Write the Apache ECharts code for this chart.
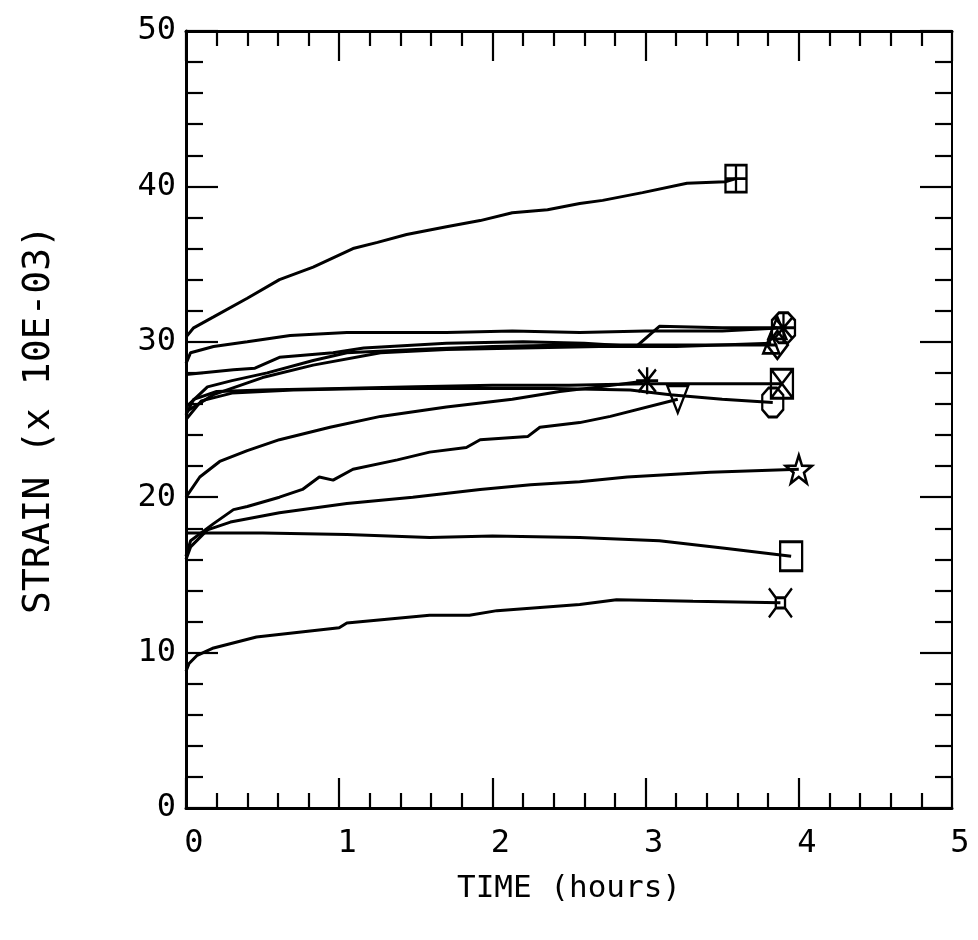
<!DOCTYPE html>
<html>
<head>
<meta charset="utf-8">
<script src="https://cdn.jsdelivr.net/npm/echarts@6/dist/echarts.min.js"></script>
<style>
html,body{margin:0;padding:0;background:#fff;}
#chart{width:978px;height:940px;}
</style>
</head>
<body>
<div id="chart"></div>
<script>
// ---- Data (time in hours, strain x 10E-03) ----
var xTicks = [0, 1, 2, 3, 4, 5];
var yTicks = [0, 10, 20, 30, 40, 50];

var curveA = [[0,30.3],[0.05,30.9],[0.18,31.6],[0.4,32.8],[0.61,34.0],[0.83,34.8],[1.09,36.0],[1.25,36.4],[1.44,36.9],[1.7,37.4],[1.92,37.8],[2.13,38.3],[2.36,38.5],[2.57,38.9],[2.72,39.1],[2.98,39.6],[3.27,40.2],[3.52,40.3],[3.59,40.5]];
var curveB = [[0,28.6],[0.03,29.3],[0.18,29.7],[0.4,30.0],[0.68,30.4],[1.05,30.6],[1.38,30.6],[1.7,30.6],[2.13,30.7],[2.57,30.6],[3.0,30.7],[3.5,30.7],[3.9,30.9]];
var curveC = [[0,27.9],[0.31,28.2],[0.45,28.3],[0.61,29.0],[0.96,29.3],[1.16,29.6],[1.7,29.9],[2.2,30.0],[2.6,29.9],[2.94,29.7],[3.09,31.0],[3.5,30.9],[3.86,30.9]];
var curveD = [[0,25.8],[0.14,27.1],[0.3,27.5],[0.53,28.0],[0.83,28.8],[1.05,29.3],[1.5,29.5],[2.0,29.7],[2.5,29.8],[3.0,29.8],[3.5,29.8],[3.86,29.8]];
var curveE = [[0,25.5],[0.18,26.6],[0.5,27.7],[0.83,28.5],[1.27,29.3],[1.7,29.5],[2.2,29.6],[2.7,29.7],[3.2,29.7],[3.82,29.9]];
var curveF = [[0,25.3],[0.05,26.3],[0.2,26.8],[0.5,26.9],[1.0,27.0],[1.5,27.1],[2.0,27.2],[2.5,27.2],[3.0,27.3],[3.5,27.3],[3.89,27.3]];
var curveH = [[0,25.0],[0.1,26.2],[0.3,26.7],[0.7,26.9],[1.2,27.0],[1.8,27.0],[2.4,27.0],[2.9,26.9],[3.16,26.6],[3.5,26.3],[3.83,26.1]];
var curveI = [[0,20.0],[0.09,21.3],[0.22,22.3],[0.4,23.0],[0.61,23.7],[0.94,24.5],[1.27,25.2],[1.7,25.8],[2.13,26.3],[2.44,26.8],[2.7,27.1],[3.01,27.5]];
var curveJ = [[0,16.2],[0.03,17.2],[0.18,18.3],[0.31,19.2],[0.4,19.4],[0.61,20.0],[0.76,20.5],[0.87,21.3],[0.96,21.1],[1.09,21.8],[1.38,22.4],[1.59,22.9],[1.83,23.2],[1.92,23.7],[2.23,23.9],[2.31,24.5],[2.57,24.8],[2.77,25.2],[3.21,26.3]];
var curveK = [[0,16.0],[0.03,16.8],[0.14,17.9],[0.29,18.4],[0.61,19.0],[1.05,19.6],[1.48,20.0],[1.92,20.5],[2.25,20.8],[2.57,21.0],[2.88,21.3],[3.42,21.6],[4.0,21.8]];
var curveL = [[0,17.7],[0.5,17.7],[1.05,17.6],[1.59,17.4],[2.0,17.5],[2.57,17.4],[3.09,17.2],[3.53,16.7],[3.95,16.2]];
var curveM = [[0,8.8],[0.02,9.3],[0.07,9.8],[0.18,10.3],[0.46,11.0],[1.0,11.6],[1.05,11.9],[1.59,12.4],[1.85,12.4],[2.03,12.7],[2.57,13.1],[2.81,13.4],[3.31,13.3],[3.88,13.2]];

// ---- Marker shapes ----
var SYM = {
  boxPlus: 'path://M0,0H20V28H0Z M10,0V28 M0,14H20',
  boxX: 'path://M0,0H20V28H0Z M0,0L20,28 M20,0L0,28',
  box: 'path://M0,0H20V28H0Z',
  octagon: 'path://M6,0H14L20,7V21L14,28H6L0,21V7Z',
  wheel: 'path://M6,0H14L20,7V21L14,28H6L0,21V7Z M10,0V28 M0,14H20 M2,4L18,24 M18,4L2,24',
  diamond: 'path://M10,0L20,14L10,28L0,14Z',
  triDown: 'path://M0,0H20L10,28Z',
  triUp: 'path://M10,0L20,28H0Z',
  star: 'path://M10,0L12.35,6.76L19.51,6.91L13.8,11.24L15.88,18.09L10,14L4.12,18.09L6.2,11.24L0.49,6.91L7.65,6.76Z',
  asterisk: 'path://M10,0V24 M0,12H20 M2,2L18,22 M18,2L2,22',
  crossBox: 'path://M6,9H14V19H6Z M0,0L6,9 M20,0L14,9 M0,28L6,19 M20,28L14,19'
};

var curves = [
  {d: curveA, s: SYM.boxPlus, size: [21, 27]},
  {d: curveB, s: SYM.wheel, size: [23, 30]},
  {d: curveC, s: SYM.triUp, size: [18, 22]},
  {d: curveD, s: SYM.diamond, size: [21, 28]},
  {d: curveE, s: SYM.triUp, size: [16, 20]},
  {d: curveF, s: SYM.boxX, size: [22, 29]},
  {d: curveH, s: SYM.octagon, size: [21, 29]},
  {d: curveI, s: SYM.asterisk, size: [22, 27]},
  {d: curveJ, s: SYM.triDown, size: [21, 27]},
  {d: curveK, s: SYM.star, size: [26, 28]},
  {d: curveL, s: SYM.box, size: [22, 29]},
  {d: curveM, s: SYM.crossBox, size: [23, 29]}
];

var FONT = 'DejaVu Sans Mono';
var series = [];
curves.forEach(function (c) {
  series.push({
    type: 'line', data: c.d, showSymbol: false, symbol: 'none',
    lineStyle: {color: '#000', width: 3}, z: 3, animation: false
  });
  series.push({
    type: 'scatter', data: [c.d[c.d.length - 1]], symbol: c.s, symbolSize: c.size,
    itemStyle: {color: 'rgba(0,0,0,0)', borderColor: '#000', borderWidth: 2.6, opacity: 1},
    z: 5, animation: false
  });
});

function xAx(pos, show) {
  return {
    type: 'value', position: pos, min: 0, max: 5, interval: 1,
    name: show ? 'TIME (hours)' : '', nameLocation: 'middle', nameGap: 65,
    nameTextStyle: {fontFamily: FONT, fontSize: 31, color: '#000'},
    axisLine: {show: true, onZero: false, lineStyle: {color: '#000', width: 3}},
    axisTick: {show: true, inside: true, length: 30, lineStyle: {color: '#000', width: 2.2}},
    minorTick: {show: true, splitNumber: 5, length: 15, lineStyle: {color: '#000', width: 2.2}},
    splitLine: {show: false}, minorSplitLine: {show: false},
    axisLabel: {show: show, margin: 20, fontFamily: FONT, fontSize: 32, color: '#000', padding: [0, 0, 0, 16]}
  };
}
function yAx(pos, show) {
  return {
    type: 'value', position: pos, min: 0, max: 50, interval: 10,
    name: show ? 'STRAIN (x 10E-03)' : '', nameLocation: 'middle', nameGap: 128,
    nameTextStyle: {fontFamily: FONT, fontSize: 38, color: '#000'},
    axisLine: {show: true, onZero: false, lineStyle: {color: '#000', width: show ? 3 : 2}},
    axisTick: {show: true, inside: true, length: 32, lineStyle: {color: '#000', width: 2.2}},
    minorTick: {show: true, splitNumber: 5, length: 17, lineStyle: {color: '#000', width: 2.2}},
    splitLine: {show: false}, minorSplitLine: {show: false},
    axisLabel: {show: show, margin: 10, fontFamily: FONT, fontSize: 32, color: '#000'}
  };
}

var chart = echarts.init(document.getElementById('chart'), null, {renderer: 'canvas'});
chart.setOption({
  backgroundColor: '#fff',
  animation: false,
  grid: {left: 186, right: 26, top: 31, bottom: 132, containLabel: false},
  xAxis: [xAx('bottom', true), xAx('top', false)],
  yAxis: [yAx('left', true), yAx('right', false)],
  series: series
});
</script>
</body>
</html>
